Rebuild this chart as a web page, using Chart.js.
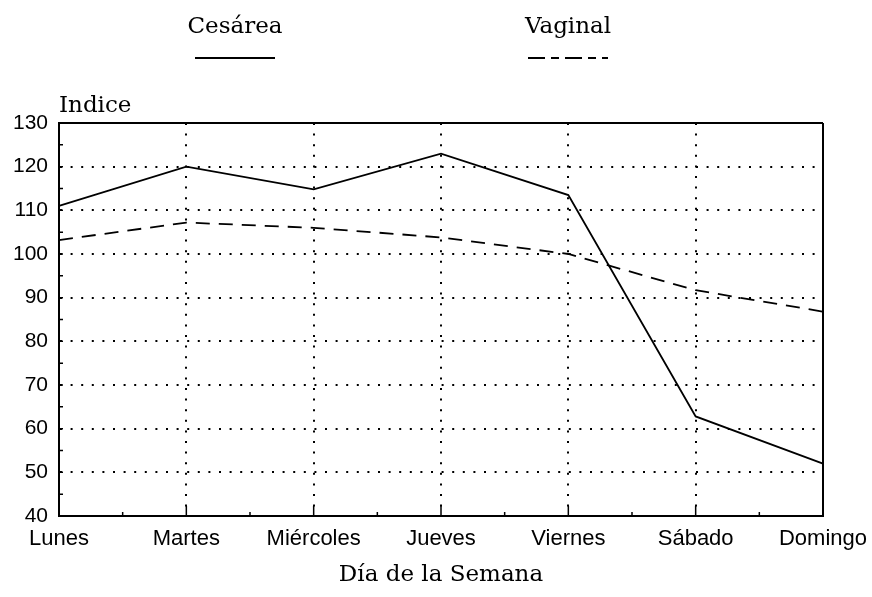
<!DOCTYPE html>
<html>
<head>
<meta charset="utf-8">
<script src="https://cdn.jsdelivr.net/npm/chart.js@4.4.0/dist/chart.umd.min.js"></script>
<style>
  html, body { margin: 0; padding: 0; background: #fff; }
  #wrap { width: 872px; height: 597px; }
</style>
</head>
<body>
<div id="wrap"><canvas id="chart"></canvas></div>
<script>
// datos
const dias = ["Lunes", "Martes", "Miércoles", "Jueves", "Viernes", "Sábado", "Domingo"];
const cesarea = [111, 120, 114.8, 123, 113.5, 62.8, 52];
const vaginal = [103.2, 107.2, 106, 103.8, 100, 91.7, 86.8];
const yMin = 40;
const yMax = 130;
const yPaso = 10;

const serif = '23px "DejaVu Serif"';
const puntos = [2, 8.6];

// leyenda arriba (texto encima de la muestra de linea), rotulo "Indice" y marcas menores
const leyendaArriba = {
    id: 'leyendaArriba',
    afterDraw(chart) {
        const ctx = chart.ctx;
        const area = chart.chartArea;
        const centros = [235, 568];
        const muestras = [[], [17, 6, 8, 6]];
        chart.data.datasets.forEach((ds, i) => {
            const cx = centros[i];
            ctx.save();
            ctx.fillStyle = '#000';
            ctx.font = serif;
            ctx.textAlign = 'center';
            ctx.textBaseline = 'alphabetic';
            ctx.fillText(ds.label, cx, 33);
            ctx.strokeStyle = '#000';
            ctx.lineWidth = 2;
            ctx.setLineDash(muestras[i]);
            ctx.beginPath();
            ctx.moveTo(cx - 40, 58);
            ctx.lineTo(cx + 40, 58);
            ctx.stroke();
            ctx.restore();
        });
        ctx.save();
        ctx.fillStyle = '#000';
        ctx.font = serif;
        ctx.textAlign = 'left';
        ctx.textBaseline = 'alphabetic';
        ctx.fillText('Indice', area.left, area.top - 11);

        // marcas pequenas en los ejes
        const xs = chart.scales.x;
        const ys = chart.scales.y;
        ctx.strokeStyle = '#000';
        ctx.lineWidth = 1.5;
        ctx.beginPath();
        for (let i = 0; i < dias.length; i++) {
            const px = xs.getPixelForValue(i);
            ctx.moveTo(px, area.bottom);
            ctx.lineTo(px, area.bottom - 10);
            if (i < dias.length - 1) {
                const pm = xs.getPixelForValue(i + 0.5);
                ctx.moveTo(pm, area.bottom);
                ctx.lineTo(pm, area.bottom - 4);
            }
        }
        for (let v = yMin + 5; v < yMax; v += 5) {
            const py = ys.getPixelForValue(v);
            ctx.moveTo(area.left, py);
            ctx.lineTo(area.left + 4, py);
        }
        ctx.stroke();
        ctx.restore();
    }
};

new Chart(document.getElementById("chart"), {
    type: "line",
    data: {
        labels: dias,
        datasets: [{
            label: "Cesárea",
            data: cesarea,
            borderColor: '#000',
            borderWidth: 1.8,
            pointRadius: 0,
            tension: 0
        },
        {
            label: "Vaginal",
            data: vaginal,
            borderColor: '#000',
            borderWidth: 1.8,
            borderDash: [14, 9],
            pointRadius: 0,
            tension: 0
        }]
    },
    options: {
        responsive: true,
        maintainAspectRatio: false,
        animation: false,
        layout: { padding: { top: 123, right: 49, left: 0, bottom: 0 } },
        plugins: {
            legend: { display: false },
            tooltip: { enabled: false }
        },
        scales: {
            x: {
                offset: false,
                afterFit: (scale) => {
                    scale.height = 81;
                    scale.paddingLeft = 0;
                    scale.paddingRight = 0;
                },
                grid: {
                    color: '#000',
                    lineWidth: 2,
                    drawTicks: false
                },
                border: {
                    display: true,
                    color: '#000',
                    width: 2,
                    dash: (c) => c.index === dias.length - 1 ? [] : puntos
                },
                ticks: {
                    color: '#000',
                    font: { family: '"Liberation Sans"', size: 22 },
                    padding: 10,
                    maxRotation: 0,
                    autoSkip: false
                },
                title: {
                    display: true,
                    text: 'Día de la Semana',
                    color: '#000',
                    font: { family: '"DejaVu Serif"', size: 23 },
                    padding: { top: 4, bottom: 8 }
                }
            },
            y: {
                min: yMin,
                max: yMax,
                afterFit: (scale) => { scale.width = 59; },
                grid: {
                    color: '#000',
                    lineWidth: 2,
                    drawTicks: false
                },
                border: {
                    display: true,
                    color: '#000',
                    width: 2,
                    dash: (c) => (c.tick && c.tick.value === yMax) ? [] : puntos
                },
                ticks: {
                    stepSize: yPaso,
                    color: '#000',
                    font: { family: '"Liberation Sans"', size: 21 },
                    padding: 11
                }
            }
        }
    },
    plugins: [leyendaArriba]
});
</script>
</body>
</html>
